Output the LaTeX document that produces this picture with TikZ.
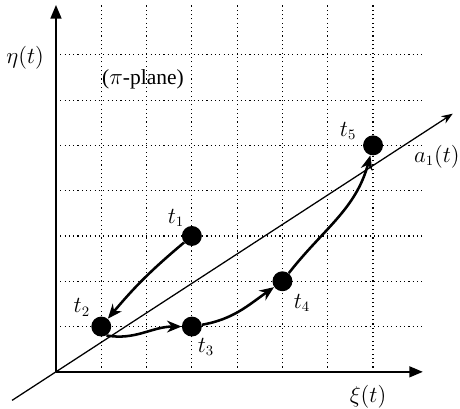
\documentclass[tikz,border=0pt]{standalone}
\usepackage{amsmath,amssymb}
\usepackage{fontspec}
\setmainfont{Liberation Serif}
\usepackage{tikz}
\usetikzlibrary{arrows.meta,calc,positioning}
\tikzset{
  gridline/.style = {dotted, line width=0.7pt},
  axis/.style     = {-{Triangle[length=3mm,width=2.4mm]}, line width=1.2pt},
  dir/.style      = {-{Stealth[length=2.5mm]}, line width=0.8pt},
  dot/.style      = {circle, fill=black, inner sep=0pt, minimum size=4.4mm},
  traj/.style     = {-{Stealth[length=3.2mm,width=2.6mm]}, line width=1.6pt},
  lbl/.style      = {font=\fontsize{13.5}{16}\selectfont},
}

\begin{document}
\begin{tikzpicture}[x=1cm,y=1cm]
  \useasboundingbox (-1.236,-0.817) rectangle (8.92,8.21);
  % grid
  \foreach \i in {1,...,7} {
    \draw[gridline] (\i,0) -- (\i,8.1);
    \draw[gridline] (0,\i) -- (8.1,\i);
  }
  \draw[axis] (0,0) -- (8.1,0);
  \draw[axis] (0,0) -- (0,8.1);
  \coordinate (a0) at (-0.97,-0.63);
  \coordinate (a1) at (8.76,5.7);
  \draw[dir] (a0) -- (a1);
  % states
  \node[dot] (t1) at (3,3) {};
  \node[dot] (t2) at (1,1) {};
  \node[dot] (t3) at (3,1) {};
  \node[dot] (t4) at (5,2) {};
  \node[dot] (t5) at (7,5) {};
  \draw[traj] (t1) to[bend right=5] (t2);
  \draw[traj] (t2.-60) to[out=-10,in=180] (t3);
  \draw[traj] (t3) to[out=10,in=215] (t4);
  \draw[traj] (t4) to[out=52,in=255] (t5);
  % labels
  \node[lbl] (l1) at (2.65,3.4) {$t_1$};
  \node[lbl] (l2) at (0.57,1.42) {$t_2$};
  \node[lbl] (l3) at (3.31,0.55) {$t_3$};
  \node[lbl] (l4) at (5.43,1.52) {$t_4$};
  \node[lbl] (l5) at (6.45,5.32) {$t_5$};
  \node[lbl] (la) at (8.41,4.75) {$a_1(t)$};
  \node[lbl] (lx) at (6.89,-0.55) {$\xi(t)$};
  \node[lbl] (ly) at (-0.68,6.93) {$\eta(t)$};
  \node[lbl] (pl) at (1.92,6.45) {($\pi$-plane)};
\end{tikzpicture}
\end{document}
